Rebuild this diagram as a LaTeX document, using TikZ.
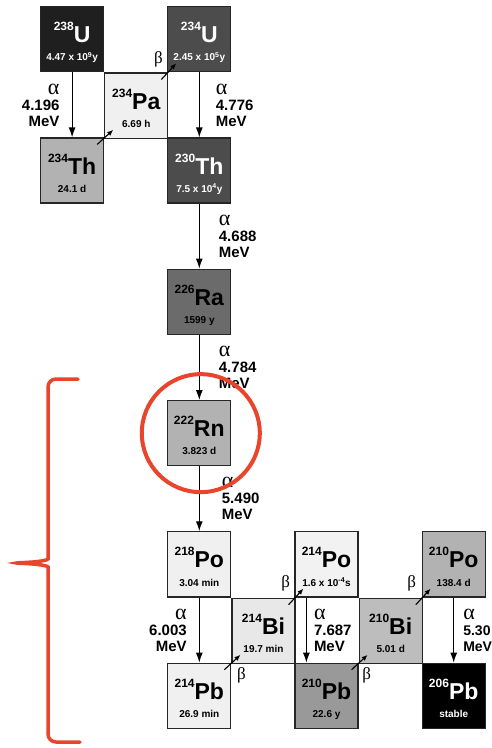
\documentclass[tikz,border=0pt]{standalone}
\usepackage{fontspec}
\setmainfont{Liberation Sans}
\newfontfamily\greekfont{Liberation Serif}
\usetikzlibrary{arrows.meta, positioning, calc}

\definecolor{radon}{HTML}{E8452C}

% mass number, symbol, half-life (one 63x65 cell)
\newcommand{\nuc}[3]{\vbox{\offinterlineskip
    \hbox to 63pt{\hss\vrule width 0pt height 36pt\raisebox{12pt}{\fontsize{12}{12}\selectfont\bfseries #1}{\fontsize{23}{23}\selectfont\bfseries #2}\hss}
    \hbox to 63pt{\hss\vrule width 0pt height 18pt depth 11pt{\fontsize{10}{10}\selectfont\bfseries #3}\hss}}}
\newcommand{\alf}{{\greekfont\mdseries\fontsize{22}{16}\selectfont α}}

\begin{document}
\begin{tikzpicture}[
        x=1pt, y=-1pt,
        iso/.style={
            rectangle,
            draw=black!85,
            line width=1.2pt,
            minimum width=63pt,
            minimum height=65pt,
            inner sep=0pt
        },
        dark/.style={text=white},
        decaya/.style={-{Latex[length=10pt,width=7pt]}, line width=1.2pt},
        decayb/.style={-{Latex[length=6pt,width=5pt]}, line width=1.1pt},
        mev/.style={inner sep=0pt, font=\fontsize{15}{16}\selectfont\bfseries},
        bt/.style={inner sep=0pt, font=\greekfont\fontsize{17}{17}\selectfont},
        ring/.style={draw=radon, line width=4pt}
    ]
        \useasboundingbox (0,0) rectangle (492,748);

        % uranium series, top part
        \node[iso, dark, fill=black!88, anchor=north west] (u238) at (40,6) {\nuc{238}{U}{4.47 x 10\textsuperscript{9}y}};
        \node[iso, dark, fill=black!70, right=63pt of u238] (u234) {\nuc{234}{U}{2.45 x 10\textsuperscript{5}y}};
        \node[iso, fill=black!6, below right=0pt of u238] (pa234) {\nuc{234}{Pa}{6.69 h}};
        \node[iso, fill=black!30, below=65pt of u238] (th234) {\nuc{234}{Th}{24.1 d}};
        \node[iso, dark, fill=black!70, below=65pt of u234] (th230) {\nuc{230}{Th}{7.5 x 10\textsuperscript{4}y}};
        \node[iso, fill=black!58, below=65pt of th230] (ra226) {\nuc{226}{Ra}{1599 y}};
        \node[iso, fill=black!30, below=65pt of ra226] (rn222) {\nuc{222}{Rn}{3.823 d}};

        % radon daughters
        \node[iso, fill=black!6, below=65pt of rn222] (po218) {\nuc{218}{Po}{3.04 min}};
        \node[iso, fill=black!6, below=65pt of po218] (pb214) {\nuc{214}{Pb}{26.9 min}};
        \node[iso, fill=black!9, below right=0pt of po218] (bi214) {\nuc{214}{Bi}{19.7 min}};
        \node[iso, fill=black!5, right=63pt of po218] (po214) {\nuc{214}{Po}{1.6 x 10\textsuperscript{-4}s}};
        \node[iso, fill=black!40, below=65pt of po214] (pb210) {\nuc{210}{Pb}{22.6 y}};
        \node[iso, fill=black!26, below right=0pt of po214] (bi210) {\nuc{210}{Bi}{5.01 d}};
        \node[iso, fill=black!30, right=63pt of po214] (po210) {\nuc{210}{Po}{138.4 d}};
        \node[iso, dark, fill=black, below=65pt of po210] (pb206) {\nuc{206}{Pb}{stable}};

        % alpha decays
        \draw[decaya] (u238) -- node[mev, left=12pt, align=right] (e1) {\alf\\4.196\\MeV} (th234);
        \draw[decaya] (u234) -- node[mev, right=16pt, align=left] (e2) {\alf\\4.776\\MeV} (th230);
        \draw[decaya] (th230) -- node[mev, right=19pt, align=left] (e3) {\alf\\4.688\\MeV} (ra226);
        \draw[decaya] (ra226) -- node[mev, right=19pt, align=left] (e4) {\alf\\4.784\\MeV} (rn222);
        \draw[decaya] (rn222) -- node[mev, right=22pt, align=left] (e5) {\alf\\5.490\\MeV} (po218);
        \draw[decaya] (po218) -- node[mev, left=12pt, align=right] (e6) {\alf\\6.003\\MeV} (pb214);
        \draw[decaya] ([xshift=12pt]po214.south west) -- node[mev, right=7pt, align=left] (e7) {\alf\\7.687\\MeV} ([xshift=12pt]pb210.north west);
        \draw[decaya] (po210) -- node[mev, right=9pt, align=left, font=\fontsize{14}{16}\selectfont\bfseries] (e8) {\alf\\5.30\\MeV} (pb206);

        % beta decays
        \draw[decayb] ([shift={(-7,7)}]th234.north east) -- ([shift={(9,-9)}]pa234.south west);
        \draw[decayb] ([shift={(-7,7)}]pa234.north east) -- ([shift={(9,-9)}]u234.south west);
        \node[bt] (b1) at ([shift={(-10,-13)}]pa234.north east) {β};
        \draw[decayb] ([shift={(-7,7)}]pb214.north east) -- ([shift={(9,-9)}]bi214.south west);
        \node[bt] (b2) at ([shift={(10,13)}]pb214.north east) {β};
        \draw[decayb] ([shift={(-7,7)}]bi214.north east) -- ([shift={(9,-9)}]po214.south west);
        \node[bt] (b3) at ([shift={(-10,-14)}]bi214.north east) {β};
        \draw[decayb] ([shift={(-7,7)}]pb210.north east) -- ([shift={(9,-9)}]bi210.south west);
        \node[bt] (b4) at ([shift={(8,13)}]pb210.north east) {β};
        \draw[decayb] ([shift={(-7,7)}]bi210.north east) -- ([shift={(9,-9)}]po210.south west);
        \node[bt] (b5) at ([shift={(-11,-14)}]bi210.north east) {β};

        % radon highlight and brace
        \draw[ring] ([xshift=1.5pt]rn222.center) circle[radius=59pt];
        \draw[ring, line width=3.5pt, line cap=round, rounded corners=8pt]
            (78,379) -- (48,379) -- (48,551)
            .. controls (48,560) and (40,562) .. (12,563)
            .. controls (40,564) and (48,566) .. (48,575)
            -- (48,742) -- (80,742);
    \end{tikzpicture}
\end{document}
